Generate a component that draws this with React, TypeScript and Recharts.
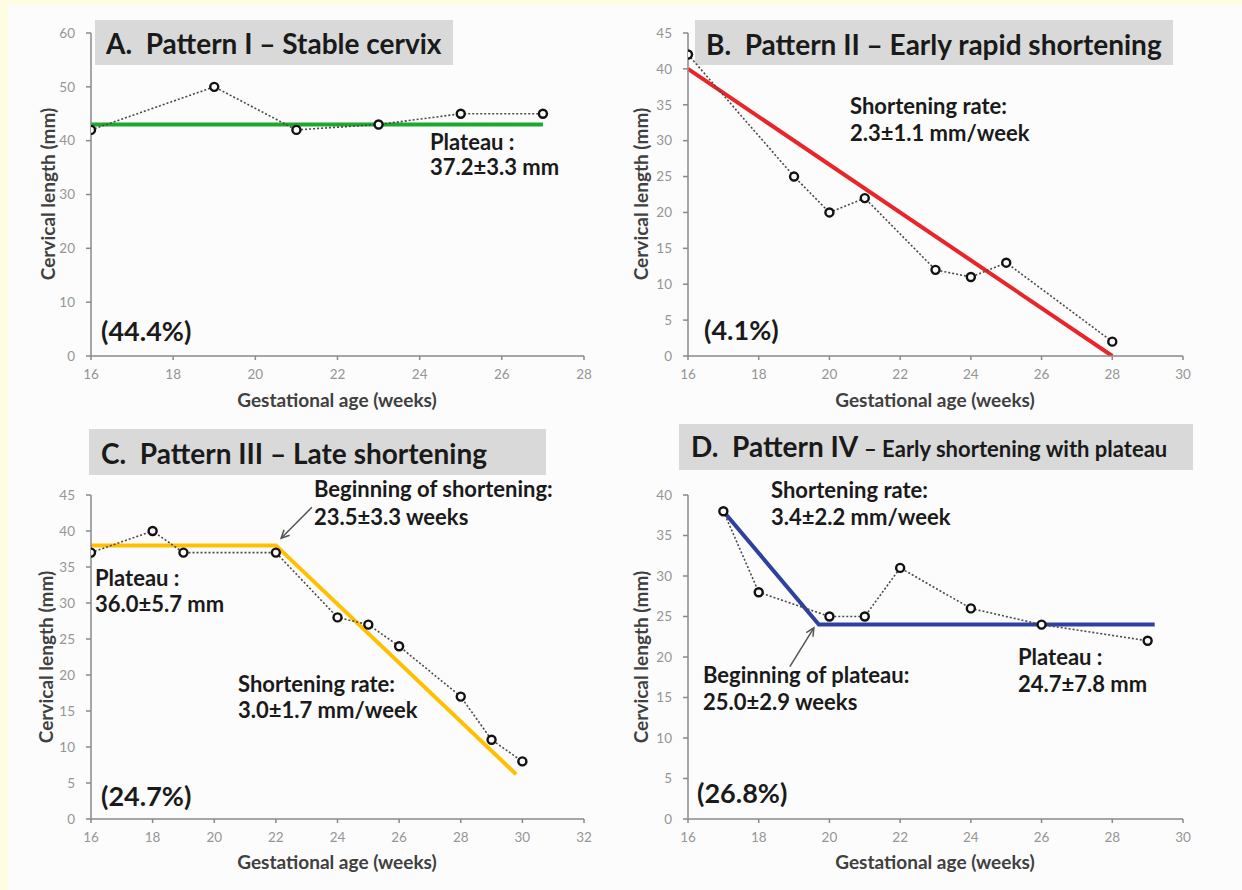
import { LineChart, Line, XAxis, YAxis, ReferenceLine } from 'recharts';

// Panel A – stable cervix
const weeksA = [16, 19, 21, 23, 25, 27];
const lengthA = [42, 50, 42, 43, 45, 45];
const fitWeeksA = [16, 27];
const fitLengthA = [43, 43];

// Panel B – early rapid shortening
const weeksB = [16, 19, 20, 21, 23, 24, 25, 28];
const lengthB = [42, 25, 20, 22, 12, 11, 13, 2];
const fitWeeksB = [16, 28];
const fitLengthB = [40, 0];

// Panel C – late shortening
const weeksC = [16, 18, 19, 22, 24, 25, 26, 28, 29, 30];
const lengthC = [37, 40, 37, 37, 28, 27, 24, 17, 11, 8];
const fitWeeksC = [16, 22, 29.8];
const fitLengthC = [38, 38, 6.2];

// Panel D – early shortening with plateau
const weeksD = [17, 18, 20, 21, 22, 24, 26, 29];
const lengthD = [38, 28, 25, 25, 31, 26, 24, 22];
const fitWeeksD = [17, 19.7, 29.2];
const fitLengthD = [38, 24, 24];

const ticksX_A = [16, 18, 20, 22, 24, 26, 28];
const ticksX_B = [16, 18, 20, 22, 24, 26, 28, 30];
const ticksX_C = [16, 18, 20, 22, 24, 26, 28, 30, 32];
const ticksX_D = [16, 18, 20, 22, 24, 26, 28, 30];
const ticksY_A = [0, 10, 20, 30, 40, 50, 60];
const ticksY_B = [0, 5, 10, 15, 20, 25, 30, 35, 40, 45];
const ticksY_C = [0, 5, 10, 15, 20, 25, 30, 35, 40, 45];
const ticksY_D = [0, 5, 10, 15, 20, 25, 30, 35, 40];

const zip = (w: number[], l: number[]) => w.map((week, i) => ({ week, len: l[i] }));

const FONT = 'Lato, "Open Sans", sans-serif';
const AXIS = '#8a8a8a';
const GAP = '\u00a0 ';

const dataDot = (p: any) => (
  <circle key={`d-${p.index}`} cx={p.cx} cy={p.cy} r={4} fill="#fafafa" stroke="#111" strokeWidth={2.4} />
);

const arrowShape = (p: any) => {
  const { x1, y1, x2, y2 } = p;
  const a = Math.atan2(y2 - y1, x2 - x1);
  const s = 9;
  const w = 0.45;
  const h1 = `${x2 - s * Math.cos(a - w)},${y2 - s * Math.sin(a - w)}`;
  const h2 = `${x2 - s * Math.cos(a + w)},${y2 - s * Math.sin(a + w)}`;
  return (
    <g>
      <line x1={x1} y1={y1} x2={x2} y2={y2} stroke="#555" strokeWidth={1.5} />
      <polyline points={`${h1} ${x2},${y2} ${h2}`} fill="none" stroke="#555" strokeWidth={1.5} />
    </g>
  );
};

type PanelProps = {
  left: number;
  top: number;
  plotW: number;
  plotH: number;
  xTicks: number[];
  yTicks: number[];
  points: { week: number; len: number }[];
  fit: { week: number; len: number }[];
  fitColor: string;
  arrow?: { x: number; y: number }[];
};

const Panel = ({ left, top, plotW, plotH, xTicks, yTicks, points, fit, fitColor, arrow }: PanelProps) => {
  const yW = 50;
  const xH = 40;
  const mt = 10;
  const mr = 20;
  const tickStyle = { fill: '#959595', fontSize: 13.5, fontFamily: FONT };
  return (
    <div style={{ position: 'absolute', left: left - yW, top: top - mt }}>
      <LineChart width={yW + plotW + mr} height={mt + plotH + xH} margin={{ top: mt, right: mr, bottom: 0, left: 0 }}>
        <XAxis
          type="number"
          dataKey="week"
          domain={[xTicks[0], xTicks[xTicks.length - 1]]}
          ticks={xTicks}
          allowDataOverflow
          height={xH}
          stroke={AXIS}
          strokeWidth={1.5}
          tickSize={4}
          tickMargin={9}
          tick={tickStyle}
        />
        <YAxis
          type="number"
          domain={[yTicks[0], yTicks[yTicks.length - 1]]}
          ticks={yTicks}
          allowDataOverflow
          width={yW}
          stroke={AXIS}
          strokeWidth={1.5}
          tickSize={5}
          tickMargin={11}
          tick={tickStyle}
        />
        <Line data={fit} dataKey="len" stroke={fitColor} strokeWidth={4} dot={false} isAnimationActive={false} />
        <Line
          data={points}
          dataKey="len"
          stroke="#4a4a4a"
          strokeWidth={1.6}
          strokeDasharray="2 2"
          dot={dataDot}
          isAnimationActive={false}
        />
        {arrow && (
          <ReferenceLine
            segment={[
              { x: arrow[0].x, y: arrow[0].y },
              { x: arrow[1].x, y: arrow[1].y },
            ]}
            shape={arrowShape}
          />
        )}
      </LineChart>
    </div>
  );
};

const T = ({ x, y, s = 22, children }: { x: number; y: number; s?: number; children: any }) => (
  <text x={x} y={y} fontSize={s} fontWeight={700} fill="#1a1a1a" fontFamily={FONT}>
    {children}
  </text>
);

const YTitle = ({ x, y }: { x: number; y: number }) => (
  <text
    x={x}
    y={y}
    transform={`rotate(-90 ${x} ${y})`}
    textAnchor="middle"
    fontSize={19}
    fontWeight={700}
    fill="#404040"
    fontFamily={FONT}
  >
    Cervical length (mm)
  </text>
);

const XTitle = ({ x, y }: { x: number; y: number }) => (
  <text x={x} y={y} textAnchor="middle" fontSize={19} fontWeight={700} fill="#404040" fontFamily={FONT}>
    Gestational age (weeks)
  </text>
);

const box = (left: number, top: number, width: number, height: number) => (
  <div style={{ position: 'absolute', left, top, width, height, background: '#d9d9d9' }} />
);

export default function App() {
  return (
    <div style={{ position: 'fixed', left: 0, top: 0, width: 1242, height: 890, background: '#fefde3', overflow: 'hidden' }}>
      <div style={{ position: 'absolute', left: 8, top: 5, width: 1234, height: 885, background: '#fcfcfc' }} />
      {box(95, 20, 358, 45)}
      {box(695, 20, 478, 45)}
      {box(89, 429, 457, 46)}
      {box(679, 424, 514, 46)}

      <Panel left={91} top={33} plotW={493} plotH={323} xTicks={ticksX_A} yTicks={ticksY_A}
        points={zip(weeksA, lengthA)} fit={zip(fitWeeksA, fitLengthA)} fitColor="#1ea82e" />
      <Panel left={688} top={33} plotW={495} plotH={323} xTicks={ticksX_B} yTicks={ticksY_B}
        points={zip(weeksB, lengthB)} fit={zip(fitWeeksB, fitLengthB)} fitColor="#e8262a" />
      <Panel left={91} top={495} plotW={493} plotH={324} xTicks={ticksX_C} yTicks={ticksY_C}
        points={zip(weeksC, lengthC)} fit={zip(fitWeeksC, fitLengthC)} fitColor="#ffc000"
        arrow={[{ x: 23.17, y: 43.3 }, { x: 22.17, y: 39.0 }]} />
      <Panel left={688} top={495} plotW={495} plotH={324} xTicks={ticksX_D} yTicks={ticksY_D}
        points={zip(weeksD, lengthD)} fit={zip(fitWeeksD, fitLengthD)} fitColor="#3040a0"
        arrow={[{ x: 18.88, y: 18.8 }, { x: 19.56, y: 23.6 }]} />

      <svg width={1242} height={890} style={{ position: 'absolute', left: 0, top: 0, pointerEvents: 'none' }}>
        <T x={106} y={54} s={28}>{`A.${GAP}Pattern I – Stable cervix`}</T>
        <T x={430} y={150}>Plateau :</T>
        <T x={430} y={175}>37.2±3.3 mm</T>
        <T x={101} y={341} s={27}>(44.4%)</T>

        <T x={706} y={55} s={28}>{`B.${GAP}Pattern II – Early rapid shortening`}</T>
        <T x={850} y={114}>Shortening rate:</T>
        <T x={850} y={141}>2.3±1.1 mm/week</T>
        <T x={704} y={340} s={27}>(4.1%)</T>

        <T x={101} y={464} s={28}>{`C.${GAP}Pattern III – Late shortening`}</T>
        <T x={314} y={497}>Beginning of shortening:</T>
        <T x={314} y={525}>23.5±3.3 weeks</T>
        <T x={95} y={586}>Plateau :</T>
        <T x={95} y={612}>36.0±5.7 mm</T>
        <T x={238} y={692}>Shortening rate:</T>
        <T x={238} y={718}>3.0±1.7 mm/week</T>
        <T x={101} y={806} s={27}>(24.7%)</T>

        <text x={691} y={457} fontWeight={700} fill="#1a1a1a" fontFamily={FONT}>
          <tspan fontSize={28}>{`D.${GAP}Pattern IV `}</tspan>
          <tspan fontSize={22}>– Early shortening with plateau</tspan>
        </text>
        <T x={771} y={498}>Shortening rate:</T>
        <T x={771} y={525}>3.4±2.2 mm/week</T>
        <T x={703} y={683}>Beginning of plateau:</T>
        <T x={703} y={710}>25.0±2.9 weeks</T>
        <T x={1018} y={665}>Plateau :</T>
        <T x={1018} y={692}>24.7±7.8 mm</T>
        <T x={697} y={803} s={27}>(26.8%)</T>

        <YTitle x={55} y={194} />
        <YTitle x={648} y={194} />
        <YTitle x={53} y={657} />
        <YTitle x={648} y={657} />
        <XTitle x={337} y={407} />
        <XTitle x={935} y={407} />
        <XTitle x={337} y={869} />
        <XTitle x={935} y={869} />
      </svg>
    </div>
  );
}
